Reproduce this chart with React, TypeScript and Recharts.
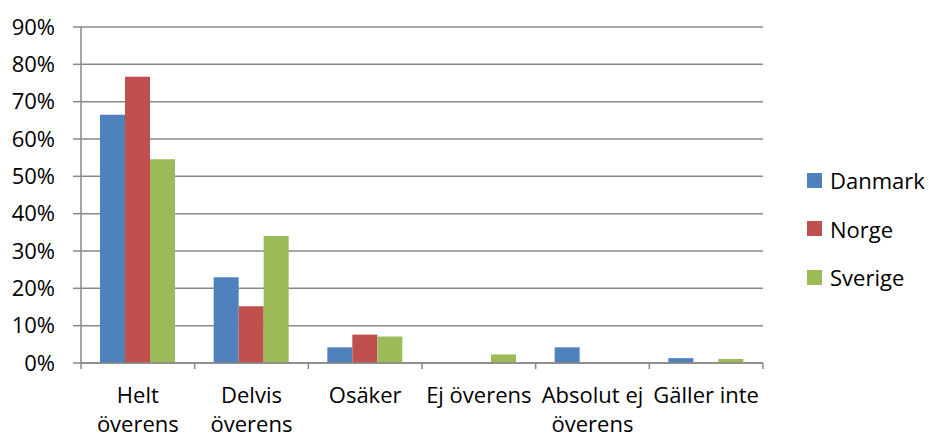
import { BarChart, Bar, XAxis, YAxis, CartesianGrid, Legend } from 'recharts'

const categories = ['Helt överens', 'Delvis överens', 'Osäker', 'Ej överens', 'Absolut ej överens', 'Gäller inte']
const categoryLines = [['Helt', 'överens'], ['Delvis', 'överens'], ['Osäker'], ['Ej överens'], ['Absolut ej', 'överens'], ['Gäller inte']]
const danmark = [66.5, 23.0, 4.2, 0, 4.2, 1.3]
const norge = [76.7, 15.2, 7.6, 0, 0, 0]
const sverige = [54.6, 34.0, 7.1, 2.3, 0, 1.1]
const yTicks = [0, 10, 20, 30, 40, 50, 60, 70, 80, 90]

const series = [
  { key: 'Danmark', values: danmark, color: '#4F81BD' },
  { key: 'Norge', values: norge, color: '#C0504D' },
  { key: 'Sverige', values: sverige, color: '#9BBB59' },
]

const data = categories.map((name, i) => {
  const row: Record<string, string | number> = { name }
  series.forEach(s => { row[s.key] = s.values[i] })
  return row
})

const W = 929
const H = 439
const X_H = 30
const M = { top: 27, right: 166, bottom: 76 - X_H, left: 8 }
const Y_W = 73
const PLOT_W = W - M.left - M.right - Y_W
const HALF_BAND = PLOT_W / categories.length / 2
const GRID = '#898989'
const FONT = 22

function XTick({ x, y, index }: any) {
  const lines = categoryLines[index] || []
  const last = index === categories.length - 1
  return (
    <g>
      <line x1={x - HALF_BAND} x2={x - HALF_BAND} y1={y} y2={y + 6} stroke={GRID} strokeWidth={1.5} />
      {last && <line x1={x + HALF_BAND} x2={x + HALF_BAND} y1={y} y2={y + 6} stroke={GRID} strokeWidth={1.5} />}
      <text x={x} y={y + 40} textAnchor="middle" fill="#000" fontSize={FONT}>
        {lines.map((l, i) => (
          <tspan key={i} x={x} dy={i === 0 ? 0 : 29}>{l}</tspan>
        ))}
      </text>
    </g>
  )
}

function LegendBox() {
  return (
    <div>
      {series.map(s => (
        <div key={s.key} style={{ display: 'flex', alignItems: 'center', height: 48.5 }}>
          <span style={{ width: 15, height: 15, background: s.color, display: 'inline-block', marginRight: 8 }} />
          <span style={{ fontSize: FONT, color: '#000' }}>{s.key}</span>
        </div>
      ))}
    </div>
  )
}

export default function App() {
  return (
    <div style={{ position: 'fixed', left: 0, top: 0, width: W, height: H, background: '#fff', fontFamily: '"Open Sans", sans-serif' }}>
      <BarChart width={W} height={H} data={data} margin={M} barCategoryGap={19} barGap={0}>
        <CartesianGrid vertical={false} stroke={GRID} strokeWidth={1.5} />
        <XAxis
          dataKey="name"
          height={X_H}
          interval={0}
          tickLine={false}
          tickSize={0}
          tickMargin={0}
          axisLine={{ stroke: GRID, strokeWidth: 1.5 }}
          tick={<XTick />}
        />
        <YAxis
          width={Y_W}
          domain={[0, 90]}
          ticks={yTicks}
          tickFormatter={v => `${v}%`}
          tickSize={8}
          tickMargin={18}
          tickLine={{ stroke: GRID, strokeWidth: 1.5 }}
          axisLine={{ stroke: GRID, strokeWidth: 1.5 }}
          tick={{ fill: '#000', fontSize: FONT }}
        />
        <Legend
          layout="vertical"
          align="center"
          verticalAlign="middle"
          content={<LegendBox />}
          wrapperStyle={{ left: 807, top: 156, width: 'auto', height: 'auto' }}
        />
        {series.map(s => (
          <Bar key={s.key} dataKey={s.key} fill={s.color} isAnimationActive={false} />
        ))}
      </BarChart>
    </div>
  )
}
